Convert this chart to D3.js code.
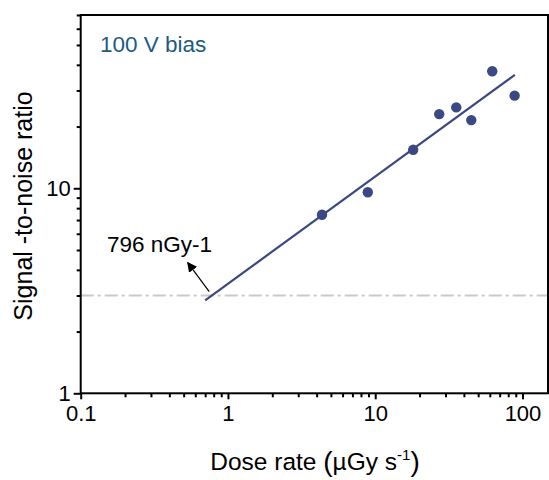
<!DOCTYPE html>
<html><head><meta charset="utf-8">
<script src="https://cdn.jsdelivr.net/npm/d3@7"></script>
<style>body{margin:0;background:#fff}svg{display:block}text{font-family:"Liberation Sans",Arial,sans-serif}</style>
</head><body><svg id="c" width="549" height="480"></svg>
<script>
const doseRate = [4.35, 8.9, 18.1, 27.2, 35.5, 44.9, 62.3, 88.4];
const snr = [7.43, 9.56, 15.4, 23.0, 24.8, 21.5, 37.2, 28.3];
const fitX = [0.70, 88.7];
const fitY = [2.84, 35.7];
const noiseLevel = 3;
const xTickValues = [0.1, 1, 10, 100];
const xTickLabels = ["0.1", "1", "10", "100"];
const yTickValues = [1, 10];
const yTickLabels = ["1", "10"];
const annotationText = "796 nGy-1";
const biasText = "100 V bias";

const svg = d3.select("#c");
const m = {l: 80.7, t: 15, r: 548, b: 393.3};
const x = d3.scaleLog().domain([0.1, 149]).range([m.l, m.r]);
const y = d3.scaleLog().domain([1, 70]).range([m.b, m.t]);

function minorTicks(lo, hi) {
  const out = [];
  for (let d = lo; d < hi; d *= 10) for (let k = 2; k <= 9; k++) { const v = d * k; if (v <= hi) out.push(v); }
  return out;
}

// dash-dot noise line
svg.append("line").attr("x1", m.l).attr("x2", m.r).attr("y1", y(noiseLevel)).attr("y2", y(noiseLevel))
  .attr("stroke", "#c9c9c9").attr("stroke-width", 2).attr("stroke-dasharray", "13,4,3,4");

// fit line
svg.append("path").datum(fitX.map((v, i) => [v, fitY[i]]))
  .attr("d", d3.line().x(d => x(d[0])).y(d => y(d[1])))
  .attr("stroke", "#3b4883").attr("stroke-width", 2.2).attr("fill", "none");

// points
svg.selectAll("circle.pt").data(doseRate).join("circle").attr("class", "pt")
  .attr("cx", d => x(d)).attr("cy", (d, i) => y(snr[i])).attr("r", 5.2).attr("fill", "#3b4883");

// axes
const xAxis = d3.axisBottom(x).tickValues(xTickValues).tickFormat((d, i) => xTickLabels[i]).tickSize(6).tickPadding(6);
const gx = svg.append("g").attr("transform", `translate(0,${m.b})`).call(xAxis);
const yAxis = d3.axisLeft(y).tickValues(yTickValues).tickFormat((d, i) => yTickLabels[i]).tickSize(7).tickPadding(3);
const gy = svg.append("g").attr("transform", `translate(${m.l},0)`).call(yAxis);
const gxm = svg.append("g").attr("transform", `translate(0,${m.b})`).call(d3.axisBottom(x).tickValues(minorTicks(0.1, 149)).tickFormat("").tickSize(4));
const gym = svg.append("g").attr("transform", `translate(${m.l},0)`).call(d3.axisLeft(y).tickValues(minorTicks(1, 70)).tickFormat("").tickSize(4));
[gx, gy, gxm, gym].forEach(g => {
  g.select(".domain").remove();
  g.selectAll("line").attr("stroke", "#000").attr("stroke-width", 2);
  g.selectAll("text").attr("font-size", 22).attr("fill", "#000").attr("font-family", '"Liberation Sans",Arial,sans-serif');
});

// frame
svg.append("rect").attr("x", m.l).attr("y", m.t).attr("width", m.r - m.l).attr("height", m.b - m.t)
  .attr("fill", "none").attr("stroke", "#000").attr("stroke-width", 2);

// annotation arrow
svg.append("defs").append("marker").attr("id", "ah").attr("viewBox", "0 0 10 10").attr("refX", 9).attr("refY", 5)
  .attr("markerWidth", 10).attr("markerHeight", 10).attr("markerUnits", "userSpaceOnUse").attr("orient", "auto")
  .append("path").attr("d", "M0,0L10,5L0,10z").attr("fill", "#000");
svg.append("line").attr("x1", x(0.746)).attr("y1", y(3.13)).attr("x2", x(0.533)).attr("y2", y(4.34))
  .attr("stroke", "#000").attr("stroke-width", 1.2).attr("marker-end", "url(#ah)");
svg.append("text").attr("x", x(0.151)).attr("y", y(4.89)).attr("font-size", 22.5).text(annotationText);

svg.append("text").attr("x", 100).attr("y", 52).attr("font-size", 22.5).attr("fill", "#1d5b85").text(biasText);

// axis labels
const xl = svg.append("text").attr("x", 315).attr("y", 470).attr("text-anchor", "middle").attr("font-size", 24.5);
xl.append("tspan").text("Dose rate ");
xl.append("tspan").attr("font-size", 28).attr("dy", 1).text("(");
xl.append("tspan").attr("dy", -1).text("µGy s");
xl.append("tspan").attr("font-size", 15).attr("dy", -10).text("-1");
xl.append("tspan").attr("font-size", 28).attr("dy", 11).text(")");

svg.append("text").attr("transform", `translate(32,206) rotate(-90)`).attr("text-anchor", "middle")
  .attr("font-size", 25).text("Signal -to-noise ratio");
</script></body></html>
